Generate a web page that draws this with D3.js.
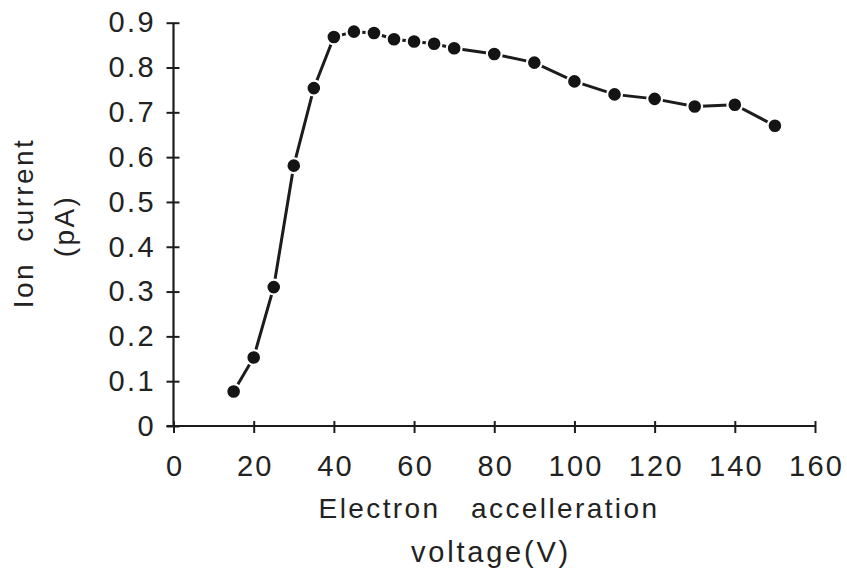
<!DOCTYPE html>
<html>
<head>
<meta charset="utf-8">
<script src="https://cdn.jsdelivr.net/npm/d3@7/dist/d3.min.js"></script>
<style>
  html, body { margin: 0; padding: 0; background: #fff; }
  svg { display: block; }
  text { font-family: "Liberation Sans", Arial, Helvetica, sans-serif; fill: #222; white-space: pre; }
</style>
</head>
<body>
<svg id="chart" width="847" height="569"></svg>
<script>
// Electron acceleration voltage (V)
const voltage = [15, 20, 25, 30, 35, 40, 45, 50, 55, 60, 65, 70, 80, 90, 100, 110, 120, 130, 140, 150];
// Measured ion current (pA)
const ionCurrent = [0.077, 0.153, 0.310, 0.581, 0.754, 0.868, 0.880, 0.877, 0.863, 0.858, 0.853, 0.843, 0.830, 0.811, 0.769, 0.740, 0.730, 0.713, 0.717, 0.670];
// Axis ticks
const xTicks = [0, 20, 40, 60, 80, 100, 120, 140, 160];
const yTicks = [0, 0.1, 0.2, 0.3, 0.4, 0.5, 0.6, 0.7, 0.8, 0.9];

const svg = d3.select("#chart");
const ink = "#1c1c1c";

const x = d3.scaleLinear().domain([0, 160]).range([173.5, 815]);
const y = d3.scaleLinear().domain([0, 0.9]).range([426, 22.7]);

// Y axis with ticks crossing the line
const yAxis = svg.append("g")
  .attr("transform", `translate(${x(0)},0)`)
  .call(d3.axisLeft(y).tickValues(yTicks).tickSize(7).tickPadding(13)
    .tickFormat(d => d === 0 ? "0" : d3.format(".1f")(d)));
yAxis.select(".domain").remove();
yAxis.selectAll(".tick line").attr("x1", 6).attr("stroke", ink).attr("stroke-width", 2);
yAxis.selectAll(".tick text")
  .style("font-size", "29px").style("letter-spacing", "2.4px")
  .attr("fill", ink).attr("dx", "2.4px");

// X axis with ticks crossing the line
const xAxis = svg.append("g")
  .attr("transform", `translate(0,${y(0)})`)
  .call(d3.axisBottom(x).tickValues(xTicks).tickSize(7).tickPadding(22));
xAxis.select(".domain").remove();
xAxis.selectAll(".tick line").attr("y1", -5).attr("stroke", ink).attr("stroke-width", 2);
xAxis.selectAll(".tick text")
  .style("font-size", "29px").style("letter-spacing", "2.2px")
  .attr("fill", ink).attr("dx", "1.1px");

// Axis lines
svg.append("line")
  .attr("x1", x(0)).attr("x2", x(0)).attr("y1", y(0.9)).attr("y2", y(0))
  .attr("stroke", ink).attr("stroke-width", 2.2);
svg.append("line")
  .attr("x1", x(0) - 7).attr("x2", x(160)).attr("y1", y(0)).attr("y2", y(0))
  .attr("stroke", ink).attr("stroke-width", 2.2);

// Data line and markers
const pts = voltage.map((v, i) => [v, ionCurrent[i]]);
svg.append("path")
  .datum(pts)
  .attr("fill", "none")
  .attr("stroke", ink)
  .attr("stroke-width", 3)
  .attr("d", d3.line().x(d => x(d[0])).y(d => y(d[1])));

svg.append("g").selectAll("circle")
  .data(pts)
  .join("circle")
  .attr("cx", d => x(d[0]))
  .attr("cy", d => y(d[1]))
  .attr("r", 7.4)
  .attr("fill", "#141414")
  .attr("stroke", "#fff")
  .attr("stroke-width", 2.2);

// Axis titles
svg.append("text")
  .attr("x", 489).attr("y", 518)
  .attr("text-anchor", "middle")
  .style("font-size", "28px").style("letter-spacing", "2.4px")
  .text("Electron   accelleration");
svg.append("text")
  .attr("x", 491).attr("y", 562)
  .attr("text-anchor", "middle")
  .style("font-size", "29px").style("letter-spacing", "2.8px")
  .text("voltage(V)");

svg.append("text")
  .attr("transform", "translate(33,223) rotate(-90)")
  .attr("text-anchor", "middle")
  .style("font-size", "28px").style("letter-spacing", "2.4px")
  .text("Ion  current");
svg.append("text")
  .attr("transform", "translate(74,226) rotate(-90)")
  .attr("text-anchor", "middle")
  .style("font-size", "28px").style("letter-spacing", "2.4px")
  .text("(pA)");
</script>
</body>
</html>
